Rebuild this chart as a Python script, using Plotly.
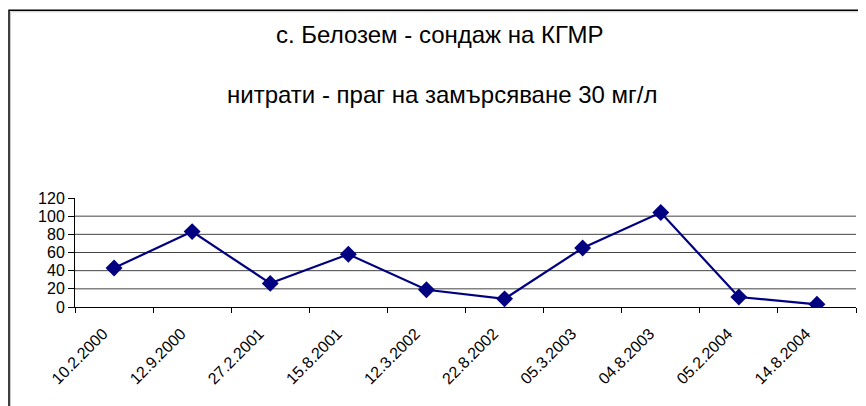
import plotly.graph_objects as go

dates = ["10.2.2000", "12.9.2000", "27.2.2001", "15.8.2001", "12.3.2002",
         "22.8.2002", "05.3.2003", "04.8.2003", "05.2.2004", "14.8.2004"]
nitrates = [43, 83, 26, 58, 19, 9, 65, 104, 11, 3]
y_ticks = [0, 20, 40, 60, 80, 100, 120]
title_line1 = "с. Белозем - сондаж на КГМР"
title_line2 = "нитрати - праг на замърсяване 30 мг/л"

OFF = 8  # page body margin
W, H = 866 - OFF, 406 - OFF
L, R, T, B = 75 - OFF, 10, 197.5 - OFF, 99.3
pw, ph = W - L - R, H - T - B

def px_x(x):
    return (x - OFF - L) / pw

def px_y(y):
    return (H - B - (y - OFF)) / ph

fig = go.Figure()
fig.add_trace(go.Scatter(
    x=dates, y=nitrates, mode="lines+markers",
    line=dict(color="#000080", width=2.2),
    marker=dict(symbol="diamond", size=13, color="#000080"),
    showlegend=False, hoverinfo="x+y",
))

font = "Liberation Sans, Arial, sans-serif"

fig.update_layout(
    width=W, height=H,
    margin=dict(l=L, r=R, t=T, b=B, pad=0, autoexpand=False),
    paper_bgcolor="white", plot_bgcolor="white",
    font=dict(family=font, color="black"),
    xaxis=dict(
        type="category", range=[-0.5, len(dates) - 0.5],
        tickson="boundaries", ticks="outside", ticklen=5, tickcolor="black",
        tickangle=-45, tickfont=dict(size=16, family=font, color="black"),
        showline=True, linecolor="black", linewidth=1,
        showgrid=False, zeroline=False, automargin=False,
        ticklabelstandoff=10, ticklabelshift=-11,
    ),
    yaxis=dict(
        range=[0, 120], tickvals=y_ticks, ticktext=[str(v) for v in y_ticks],
        ticks="outside", ticklen=6, tickcolor="black",
        tickfont=dict(size=16, family=font, color="black"),
        showline=True, linecolor="black", linewidth=1,
        showgrid=False, zeroline=False, automargin=False,
    ),
    shapes=[
        dict(type="rect", xref="paper", yref="paper",
             x0=px_x(9), x1=px_x(880), y0=px_y(420), y1=px_y(9.5),
             line=dict(color="black", width=1.5), fillcolor="rgba(0,0,0,0)",
             layer="below"),
        dict(type="rect", xref="paper", yref="paper",
             x0=px_x(10.5), x1=px_x(880), y0=px_y(420), y1=px_y(11),
             line=dict(color="#c8c8c8", width=1), fillcolor="rgba(0,0,0,0)",
             layer="below"),
    ] + [
        dict(type="line", xref="paper", yref="y", x0=0, x1=1, y0=v, y1=v,
             line=dict(color="#444444", width=1), layer="below")
        for v in y_ticks[1:-1]
    ],
    annotations=[
        dict(text=title_line1, xref="paper", yref="paper",
             x=px_x(440), y=px_y(34), xanchor="center", yanchor="middle",
             showarrow=False, font=dict(size=24, family=font, color="black")),
        dict(text=title_line2, xref="paper", yref="paper",
             x=px_x(442), y=px_y(94), xanchor="center", yanchor="middle",
             showarrow=False, font=dict(size=24, family=font, color="black")),
    ],
)

fig.write_html("out.html")
